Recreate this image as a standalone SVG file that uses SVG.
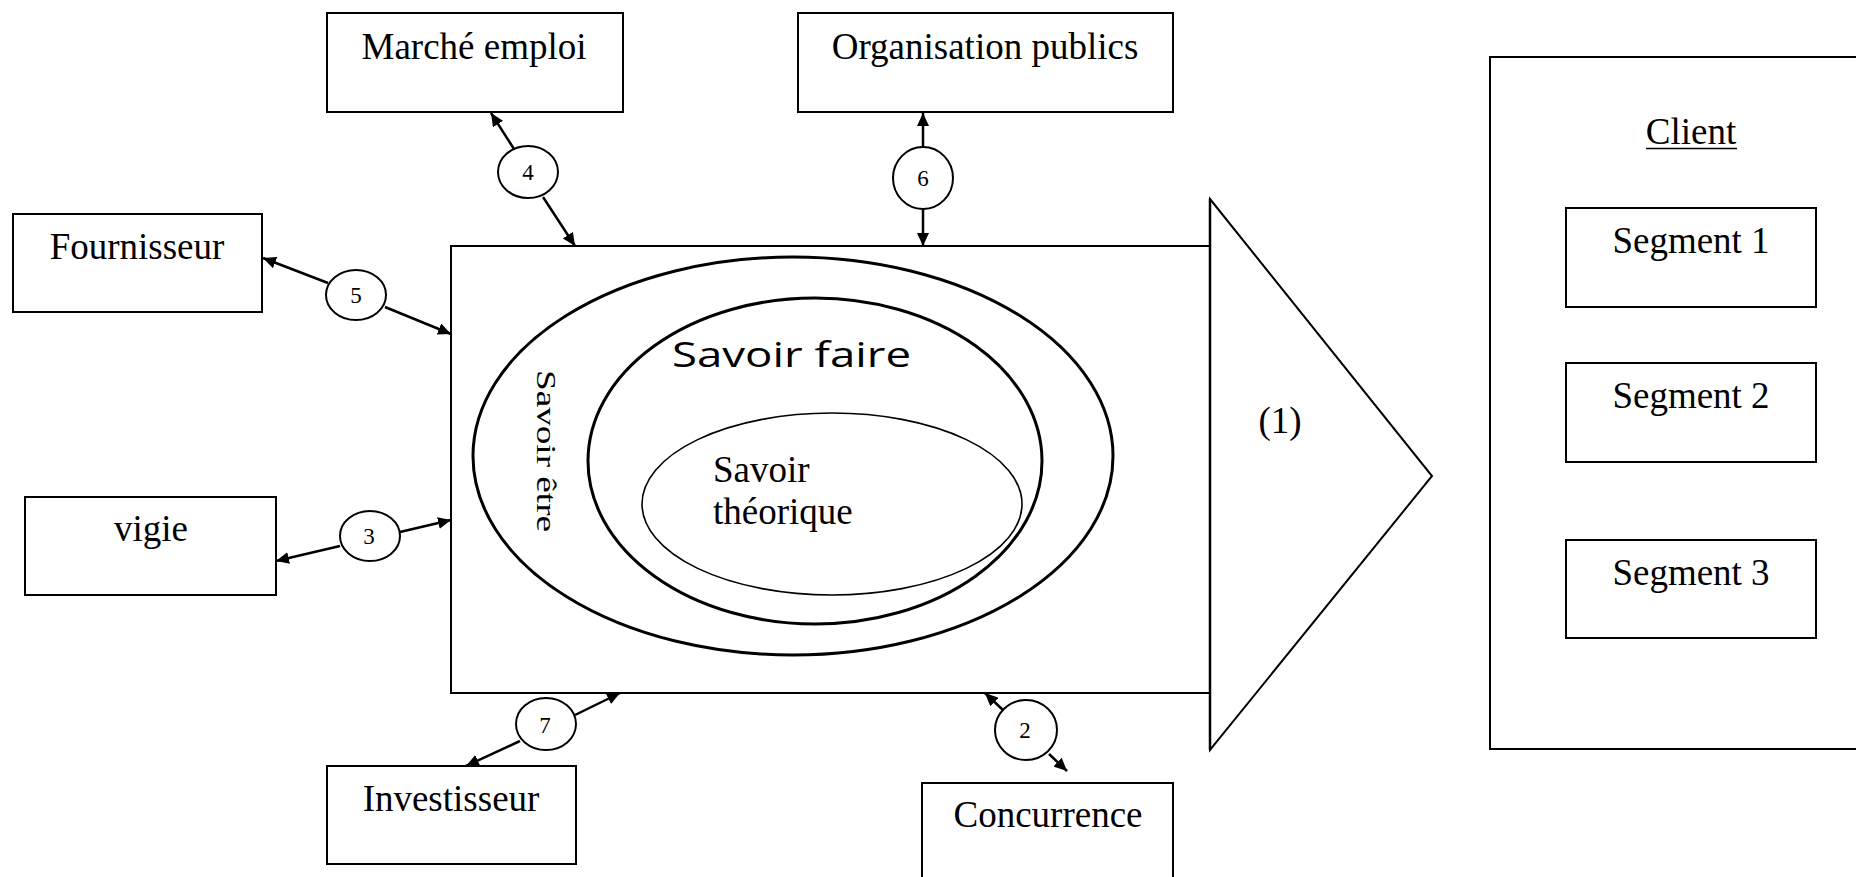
<svg xmlns="http://www.w3.org/2000/svg" width="1856" height="877" viewBox="0 0 1856 877">
<style>
.box{fill:#fff;stroke:#000;stroke-width:2}
.t{font-family:"Liberation Serif","Times New Roman",serif;font-size:37px;fill:#000}
.c{text-anchor:middle}
.num{font-family:"Liberation Serif","Times New Roman",serif;font-size:23px;fill:#000;text-anchor:middle}
.circ{fill:#fff;stroke:#000;stroke-width:2}
.conn{stroke:#000;stroke-width:2.5;fill:none;marker-end:url(#ah)}
.ell{fill:none;stroke:#000;stroke-width:3}
</style>
<defs>
<marker id="ah" markerUnits="userSpaceOnUse" markerWidth="14" markerHeight="12" refX="13" refY="6" orient="auto">
<path d="M0,0 L13,6 L0,12 z" fill="#000"/>
</marker>
</defs>
<rect width="1856" height="877" fill="#fff"/>

<g id="entreprise">
<rect x="451" y="246" width="759" height="447" fill="#fff" stroke="#000" stroke-width="2"/>
<ellipse cx="793" cy="456" rx="320" ry="199" class="ell"/>
<ellipse cx="815" cy="461" rx="227" ry="163" class="ell"/>
<ellipse cx="832" cy="504" rx="190" ry="91" fill="none" stroke="#000" stroke-width="1.6"/>
<text x="672" y="367" font-family="'Open Sans','Noto Sans',sans-serif" font-size="35" textLength="239" lengthAdjust="spacingAndGlyphs">Savoir faire</text>
<text class="t" transform="translate(537,370) rotate(90) scale(1,0.75)" textLength="162" lengthAdjust="spacingAndGlyphs">Savoir être</text>
<text class="t" x="713" y="482">Savoir</text>
<text class="t" x="713" y="524">théorique</text>
</g>

<g id="offre">
<path d="M1210,199 L1432,476 L1210,750 Z" fill="none" stroke="#000" stroke-width="2"/>
<line x1="1210" y1="199" x2="1210" y2="750" stroke="#000" stroke-width="2.5"/>
<text class="t c" x="1280" y="433" font-size="38">(1)</text>
</g>

<g id="marche-emploi">
<rect class="box" x="327" y="13" width="296" height="99"/>
<text class="t c" x="474" y="59">Marché emploi</text>
</g>

<g id="organisation-publics">
<rect class="box" x="798" y="13" width="375" height="99"/>
<text class="t c" x="985" y="59">Organisation publics</text>
</g>

<g id="fournisseur">
<rect class="box" x="13" y="214" width="249" height="98"/>
<text class="t c" x="137" y="259">Fournisseur</text>
</g>

<g id="vigie">
<rect class="box" x="25" y="497" width="251" height="98"/>
<text class="t c" x="151" y="541">vigie</text>
</g>

<g id="investisseur">
<rect class="box" x="327" y="766" width="249" height="98"/>
<text class="t c" x="451" y="811">Investisseur</text>
</g>

<g id="concurrence">
<rect class="box" x="922" y="783" width="251" height="110"/>
<text class="t c" x="1048" y="827">Concurrence</text>
</g>

<g id="client">
<rect class="box" x="1490" y="57" width="380" height="692"/>
<text class="t c" x="1691" y="144">Client</text>
<line x1="1646" y1="148.5" x2="1737" y2="148.5" stroke="#000" stroke-width="1.6"/>
</g>
<g id="segment-1">
<rect class="box" x="1566" y="208" width="250" height="99"/>
<text class="t c" x="1691" y="253">Segment 1</text>
</g>
<g id="segment-2">
<rect class="box" x="1566" y="363" width="250" height="99"/>
<text class="t c" x="1691" y="408">Segment 2</text>
</g>
<g id="segment-3">
<rect class="box" x="1566" y="540" width="250" height="98"/>
<text class="t c" x="1691" y="585">Segment 3</text>
</g>

<g id="connectors">
<line class="conn" x1="514" y1="149" x2="491" y2="113"/>
<line class="conn" x1="543" y1="197" x2="575" y2="246"/>
<line class="conn" x1="923" y1="148" x2="923" y2="113"/>
<line class="conn" x1="923" y1="208" x2="923" y2="246"/>
<line class="conn" x1="328" y1="283" x2="263" y2="258"/>
<line class="conn" x1="385" y1="307" x2="451" y2="334"/>
<line class="conn" x1="340" y1="546" x2="276" y2="561"/>
<line class="conn" x1="400" y1="532" x2="451" y2="520"/>
<line class="conn" x1="520" y1="741" x2="466" y2="766"/>
<line class="conn" x1="575" y1="715" x2="620" y2="693"/>
<line class="conn" x1="1004" y1="711" x2="985" y2="693"/>
<line class="conn" x1="1049" y1="754" x2="1067" y2="771"/>
</g>

<g id="n4"><ellipse class="circ" cx="528" cy="172" rx="30" ry="26"/><text class="num" x="528" y="180">4</text></g>
<g id="n6"><ellipse class="circ" cx="923" cy="178" rx="30" ry="31"/><text class="num" x="923" y="186">6</text></g>
<g id="n5"><ellipse class="circ" cx="356" cy="295" rx="30" ry="25"/><text class="num" x="356" y="303">5</text></g>
<g id="n3"><ellipse class="circ" cx="370" cy="536" rx="30" ry="25"/><text class="num" x="369" y="544">3</text></g>
<g id="n7"><ellipse class="circ" cx="546" cy="724" rx="30" ry="26"/><text class="num" x="545" y="733">7</text></g>
<g id="n2"><ellipse class="circ" cx="1026" cy="730" rx="31" ry="30"/><text class="num" x="1025" y="738">2</text></g>
</svg>
